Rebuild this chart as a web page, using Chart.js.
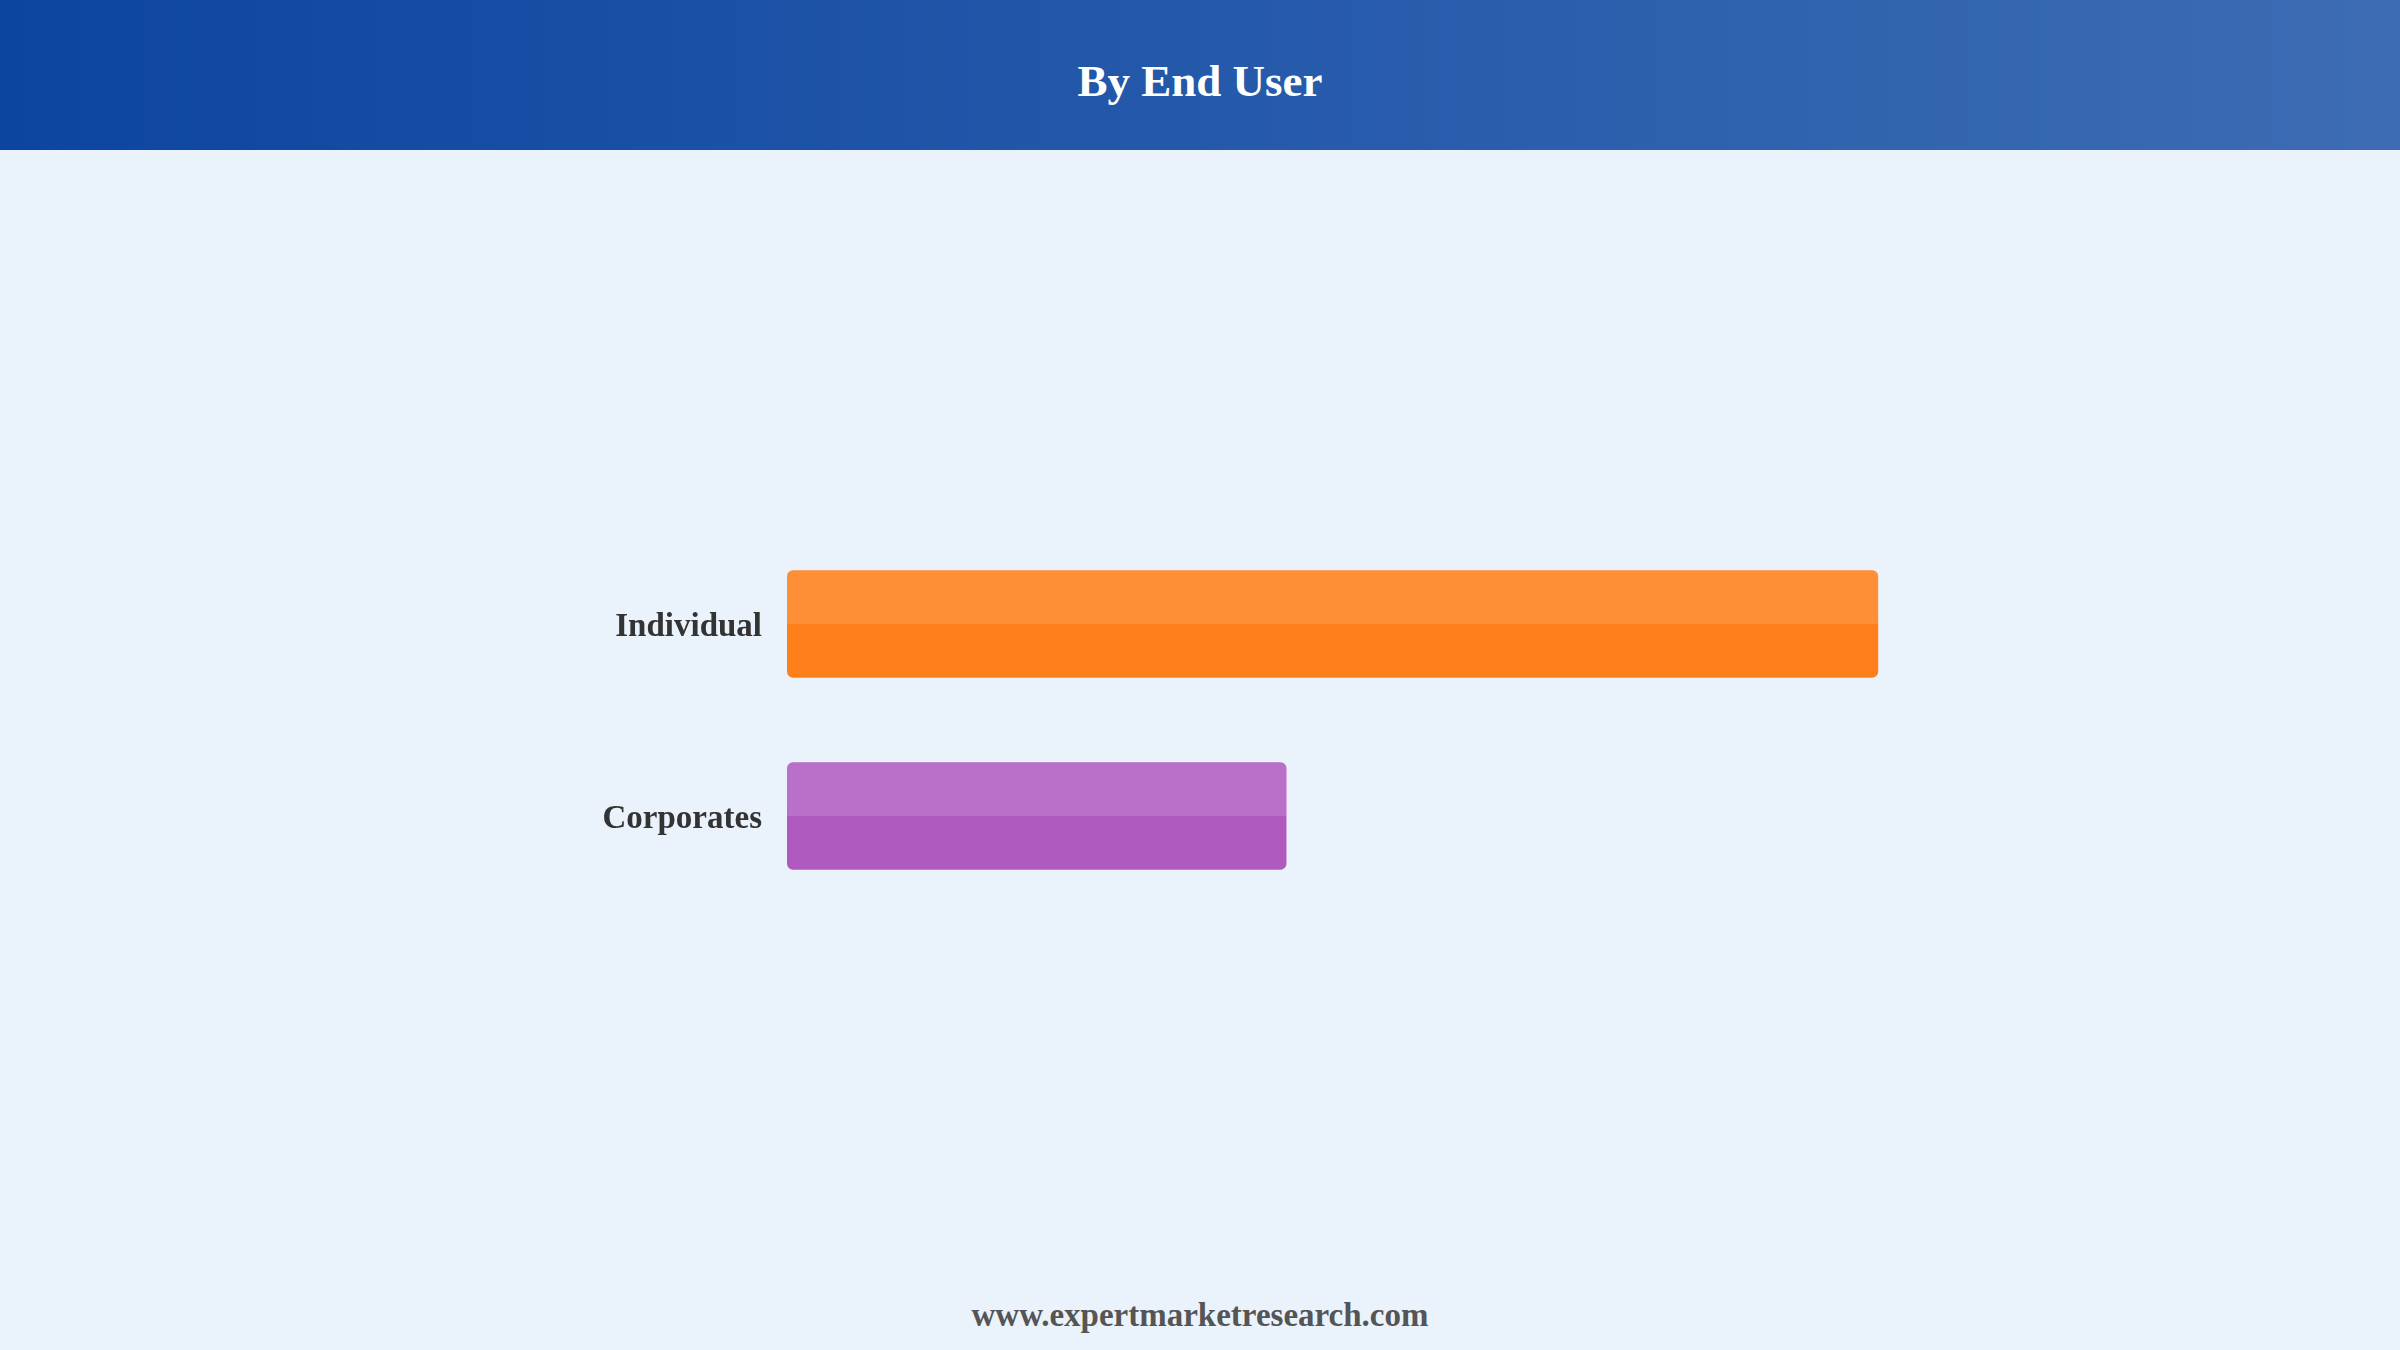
<!DOCTYPE html>
<html>
<head>
<meta charset="utf-8">
<title>By End User</title>
<script src="https://cdn.jsdelivr.net/npm/chart.js"></script>
<style>
  html, body { margin: 0; padding: 0; }
  body {
    width: 2400px;
    height: 1350px;
    background: #eaf2fc;
    position: relative;
    overflow: hidden;
    font-family: "Liberation Serif", "Times New Roman", serif;
  }
  .header {
    position: absolute;
    left: 0; top: 0;
    width: 2400px; height: 150px;
    background: linear-gradient(to right, #0c45a0, #3d6cb4);
    color: #fff;
    font-weight: bold;
    font-size: 45px;
    text-align: center;
    line-height: 163px;
  }
  .chart-box {
    position: absolute;
    left: 0; top: 150px;
    width: 2400px; height: 1000px;
  }
  .footer {
    position: absolute;
    left: 0; top: 1297px;
    width: 2400px;
    text-align: center;
    font-weight: bold;
    font-size: 33px;
    color: #555;
  }
</style>
</head>
<body>
<div class="header">By End User</div>
<div class="chart-box"><canvas id="chart"></canvas></div>
<div class="footer">www.expertmarketresearch.com</div>
<script>
  const categories = ['Individual', 'Corporates'];
  const shares = [68.6, 31.4];
  const barColors = ['#ff7f1a', '#b05ac0'];

  // lighter top half on each bar
  const highlight = {
    id: 'highlight',
    afterDatasetDraw(chart, args) {
      const ctx = chart.ctx;
      args.meta.data.forEach((bar) => {
        const top = bar.y - bar.height / 2;
        ctx.save();
        ctx.fillStyle = 'rgba(255,255,255,0.13)';
        ctx.beginPath();
        ctx.roundRect(bar.base, top, bar.x - bar.base, bar.height / 2, [6, 6, 2, 2]);
        ctx.fill();
        ctx.restore();
      });
    }
  };

  const data = {
    labels: categories,
    datasets: [{
      data: shares,
      backgroundColor: barColors,
      borderRadius: 6,
      borderSkipped: false,
      categoryPercentage: 0.8,
      barPercentage: 0.7
    }]
  };

  const config = {
    type: 'bar',
    data,
    options: {
      indexAxis: 'y',
      responsive: true,
      maintainAspectRatio: false,
      animation: false,
      layout: { padding: { left: 560, right: 420, top: 378, bottom: 238 } },
      plugins: {
        legend: { display: false },
        tooltip: { enabled: false },
        title: { display: false }
      },
      scales: {
        x: { display: false, min: 0, max: 75 },
        y: {
          grid: { display: false, drawTicks: false },
          border: { display: false },
          ticks: {
            color: '#333',
            padding: 25,
            labelOffset: 3,
            font: { family: '"Liberation Serif", "Times New Roman", serif', size: 33, weight: 'bold' }
          },
          afterFit(scale) { scale.width = 227; }
        }
      }
    },
    plugins: [highlight]
  };

  let myChart = new Chart(document.getElementById('chart'), config);
</script>
</body>
</html>
